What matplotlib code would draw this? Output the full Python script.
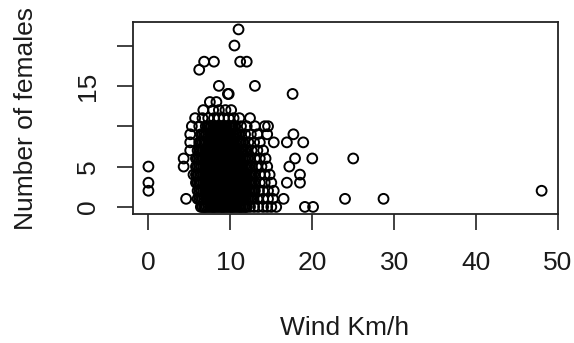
import matplotlib
matplotlib.use("Agg")
import matplotlib.pyplot as plt

# Wind speed (km/h) of observations, grouped by number of females counted
wind_f0 = [6.4, 6.6, 6.8, 6.9, 7.1, 7.3, 7.5, 7.7, 7.9, 8.0, 8.2, 8.4, 8.6, 8.8, 9.0, 9.1,
           9.3, 9.5, 9.7, 9.9, 10.1, 10.2, 10.4, 10.6, 10.8, 11.0, 11.2, 11.3, 11.5, 11.7,
           11.9, 12.0, 12.4, 12.9, 13.4, 14.0, 14.5, 15.0, 15.6, 19.1, 20.1]
wind_f1 = [4.6, 6.0, 6.2, 6.4, 6.6, 6.8, 7.0, 7.1, 7.3, 7.5, 7.7, 7.9, 8.1, 8.2, 8.4, 8.6,
           8.8, 9.0, 9.2, 9.3, 9.5, 9.7, 9.9, 10.1, 10.3, 10.4, 10.6, 10.8, 11.0, 11.2,
           11.4, 11.5, 11.7, 11.9, 12.1, 12.3, 12.5, 12.6, 12.8, 13.3, 14.0, 14.6, 15.2,
           16.5, 24.0, 28.7]
wind_f2 = [0.0, 6.0, 6.2, 6.4, 6.5, 6.7, 6.9, 7.1, 7.3, 7.5, 7.6, 7.8, 8.0, 8.2, 8.4, 8.6,
           8.7, 8.9, 9.1, 9.3, 9.5, 9.7, 9.8, 10.0, 10.2, 10.4, 10.6, 10.8, 10.9, 11.1,
           11.3, 11.5, 11.7, 11.9, 12.0, 12.2, 12.4, 12.6, 12.8, 13.0, 13.5, 14.0, 14.6,
           15.3, 48.0]
wind_f3 = [0.0, 5.8, 6.0, 6.2, 6.3, 6.5, 6.7, 6.9, 7.1, 7.3, 7.4, 7.6, 7.8, 8.0, 8.2, 8.4,
           8.5, 8.7, 8.9, 9.1, 9.3, 9.5, 9.6, 9.8, 10.0, 10.2, 10.4, 10.6, 10.7, 10.9,
           11.1, 11.3, 11.5, 11.7, 11.8, 12.0, 12.2, 12.4, 12.6, 12.8, 13.0, 13.6, 14.2,
           15.0, 16.9, 18.5]
wind_f4 = [5.5, 5.8, 6.0, 6.1, 6.3, 6.5, 6.7, 6.9, 7.1, 7.2, 7.4, 7.6, 7.8, 8.0, 8.2, 8.3,
           8.5, 8.7, 8.9, 9.1, 9.3, 9.4, 9.6, 9.8, 10.0, 10.2, 10.4, 10.5, 10.7, 10.9,
           11.1, 11.3, 11.5, 11.6, 11.8, 12.0, 12.2, 12.4, 12.6, 12.8, 13.0, 13.6, 14.2,
           14.8, 18.5]
wind_f5 = [0.0, 4.3, 5.8, 6.0, 6.2, 6.4, 6.5, 6.7, 6.9, 7.1, 7.3, 7.5, 7.6, 7.8, 8.0, 8.2,
           8.4, 8.6, 8.7, 8.9, 9.1, 9.3, 9.5, 9.7, 9.8, 10.0, 10.2, 10.4, 10.6, 10.8, 10.9,
           11.1, 11.3, 11.5, 11.7, 11.9, 12.0, 12.2, 12.4, 12.6, 13.2, 13.8, 14.5, 17.2]
wind_f6 = [4.3, 5.8, 6.0, 6.2, 6.4, 6.6, 6.7, 6.9, 7.1, 7.3, 7.5, 7.7, 7.8, 8.0, 8.2, 8.4,
           8.6, 8.8, 8.9, 9.1, 9.3, 9.5, 9.7, 9.9, 10.0, 10.2, 10.4, 10.6, 10.8, 11.0, 11.1,
           11.3, 11.5, 11.7, 11.9, 12.1, 12.2, 12.4, 13.0, 13.6, 14.3, 17.9, 20.0, 25.0]
wind_f7 = [5.1, 6.0, 6.2, 6.4, 6.6, 6.7, 6.9, 7.1, 7.3, 7.5, 7.7, 7.8, 8.0, 8.2, 8.4, 8.6,
           8.8, 8.9, 9.1, 9.3, 9.5, 9.7, 9.9, 10.0, 10.2, 10.4, 10.6, 10.8, 11.0, 11.1,
           11.3, 11.5, 11.7, 11.9, 12.0, 12.6, 13.3, 14.0]
wind_f8 = [5.1, 6.2, 6.4, 6.6, 6.8, 6.9, 7.1, 7.3, 7.5, 7.7, 7.9, 8.0, 8.2, 8.4, 8.6, 8.8,
           9.0, 9.1, 9.3, 9.5, 9.7, 9.9, 10.1, 10.2, 10.4, 10.6, 10.8, 11.0, 11.2, 11.3,
           11.5, 11.6, 12.2, 12.9, 13.6, 15.3, 16.9, 18.9]
wind_f9 = [5.1, 6.4, 6.6, 6.8, 7.0, 7.1, 7.3, 7.5, 7.7, 7.9, 8.1, 8.2, 8.4, 8.6, 8.8, 9.0,
           9.2, 9.3, 9.5, 9.7, 9.9, 10.1, 10.3, 10.4, 10.6, 10.8, 11.0, 11.2, 11.8, 12.5,
           13.3, 14.5, 17.7]
wind_f10 = [5.3, 6.2, 7.0, 7.2, 7.4, 7.6, 7.7, 7.9, 8.1, 8.3, 8.5, 8.7, 8.8, 9.0, 9.2,
            9.4, 9.6, 9.8, 9.9, 10.1, 10.3, 10.5, 10.6, 11.3, 12.0, 13.0, 14.2, 14.6]
wind_f11 = [5.7, 6.6, 7.3, 8.0, 8.6, 9.2, 9.8, 10.4, 11.1, 12.4]
wind_f12 = [6.7, 7.9, 8.6, 9.4, 10.1]
wind_f13 = [7.5, 8.3]
wind_f14 = [9.7, 9.8, 17.6]
wind_f15 = [8.6, 13.0]
wind_f17 = [6.2]
wind_f18 = [6.8, 8.0, 11.2, 12.0]
wind_f20 = [10.5]
wind_f22 = [11.0]

groups = [(0, wind_f0), (1, wind_f1), (2, wind_f2), (3, wind_f3), (4, wind_f4),
          (5, wind_f5), (6, wind_f6), (7, wind_f7), (8, wind_f8), (9, wind_f9),
          (10, wind_f10), (11, wind_f11), (12, wind_f12), (13, wind_f13),
          (14, wind_f14), (15, wind_f15), (17, wind_f17), (18, wind_f18),
          (20, wind_f20), (22, wind_f22)]

wind = []
females = []
for n, ws in groups:
    wind.extend(ws)
    females.extend([n] * len(ws))

x_ticks = [0, 10, 20, 30, 40, 50]
y_ticks = [0, 5, 10, 15, 20]
y_tick_labels = ["0", "5", "", "15", ""]

plt.rcParams['font.family'] = ['Liberation Sans', 'DejaVu Sans']
fig = plt.figure(figsize=(5.74, 3.43), dpi=100)
ax = fig.add_axes([132.7 / 574, 1 - 214 / 343, (558 - 132.7) / 574, (214 - 22.3) / 343])

ax.scatter(wind, females, s=50, facecolors='none', edgecolors='black', linewidths=1.4)

ax.set_xlim(-1.92, 49.92)
ax.set_ylim(-0.88, 22.88)
ax.set_xticks(x_ticks)
ax.set_xticklabels([str(t) for t in x_ticks])
ax.set_yticks(y_ticks)
ax.set_yticklabels(y_tick_labels)

for sp in ax.spines.values():
    sp.set_linewidth(1.3)
    sp.set_color('#222222')

ax.tick_params(axis='both', length=11.5, width=1.3, color='#333333',
               labelsize=19, labelcolor='#1a1a1a')
ax.tick_params(axis='x', pad=15)
ax.tick_params(axis='y', pad=15.5)
for lab in ax.get_yticklabels():
    lab.set_rotation(90)
    lab.set_rotation_mode('anchor')
    lab.set_ha('center')
    lab.set_va('baseline')

fig.text(345 / 574, 1 - 335 / 343, 'Wind Km/h', ha='center', va='baseline',
         fontsize=19, color='#1a1a1a')
fig.text(33 / 574, 1 - 118 / 343, 'Number of females', rotation=90,
         rotation_mode='anchor', ha='center', va='baseline', fontsize=19,
         color='#1a1a1a')

fig.savefig('out.png', dpi=100)
